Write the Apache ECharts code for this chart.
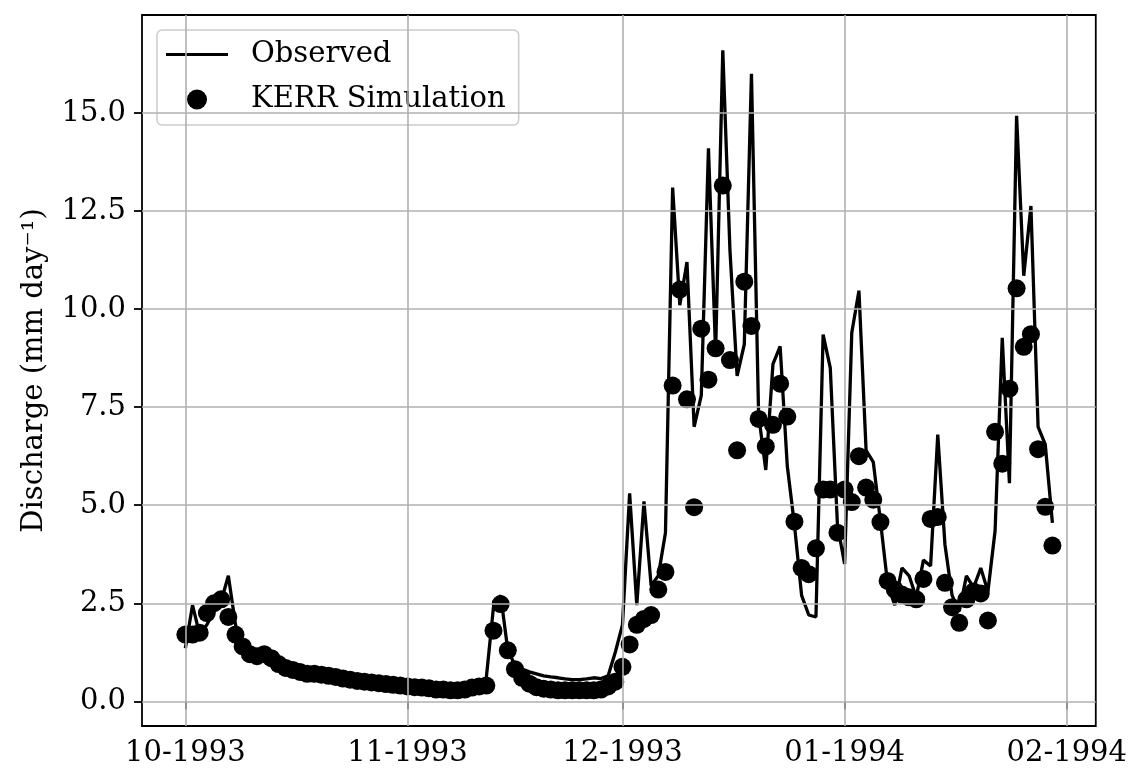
<!DOCTYPE html>
<html>
<head>
<meta charset="utf-8">
<script src="https://cdn.jsdelivr.net/npm/echarts@6/dist/echarts.min.js"></script>
<style>
  html, body { margin: 0; padding: 0; background: #fff; }
  #chart { width: 1130px; height: 770px; }
</style>
</head>
<body>
<div id="chart"></div>
<script>
// daily values, 1993-10-01 .. 1994-01-30
const startDay = '1993-10-01'

const observed = [
  // Oct
  1.35, 2.45, 1.7, 1.95, 2.3, 2.55, 3.2, 1.95, 1.4, 1.2, 1.15, 1.15, 1.05, 0.95, 0.85, 0.8,
  0.75, 0.7, 0.68, 0.66, 0.63, 0.6, 0.57, 0.54, 0.52, 0.5, 0.48, 0.46, 0.44, 0.42, 0.4,
  // Nov
  0.37, 0.35, 0.33, 0.3, 0.28, 0.27, 0.27, 0.27, 0.3, 0.35, 0.45, 0.6, 2.4, 2.7, 1.3,
  0.92, 0.82, 0.75, 0.7, 0.65, 0.62, 0.6, 0.57, 0.55, 0.55, 0.57, 0.6, 0.58, 0.65, 1.25,
  // Dec
  1.95, 5.3, 2.45, 5.1, 2.95, 3.2, 4.3, 13.1, 10.1, 11.2, 7.0, 7.8, 14.1, 8.9, 16.6, 11.5,
  8.3, 9.1, 16.0, 7.3, 5.9, 8.6, 9.05, 6.0, 4.5, 2.7, 2.2, 2.15, 9.35, 8.5, 4.5,
  // Jan
  3.5, 9.4, 10.47, 6.4, 6.1, 4.6, 3.0, 2.45, 3.4, 3.2, 2.65, 3.6, 3.45, 6.8, 4.0,
  2.7, 2.3, 3.2, 2.9, 3.4, 2.8, 4.35, 9.27, 5.56, 14.93, 10.85, 12.63, 7.0, 6.55, 4.55
]

const kerrSim = [
  // Oct
  1.7, 1.7, 1.75, 2.25, 2.5, 2.6, 2.15, 1.7, 1.4, 1.2, 1.15, 1.2, 1.1, 0.95, 0.85, 0.8,
  0.75, 0.7, 0.7, 0.68, 0.65, 0.62, 0.58, 0.55, 0.52, 0.5, 0.48, 0.46, 0.44, 0.42, 0.4,
  // Nov
  0.38, 0.36, 0.35, 0.33, 0.3, 0.3, 0.28, 0.28, 0.3, 0.35, 0.38, 0.4, 1.8, 2.48, 1.3,
  0.82, 0.6, 0.45, 0.36, 0.32, 0.3, 0.28, 0.28, 0.28, 0.28, 0.28, 0.28, 0.3, 0.38, 0.5,
  // Dec
  0.88, 1.45, 1.95, 2.1, 2.2, 2.85, 3.3, 8.05, 10.5, 7.7, 4.95, 9.5, 8.2, 9.0, 13.15, 8.7,
  6.4, 10.7, 9.57, 7.2, 6.5, 7.05, 8.1, 7.26, 4.58, 3.4, 3.24, 3.9, 5.4, 5.4, 4.3,
  // Jan
  5.4, 5.08, 6.25, 5.45, 5.14, 4.57, 3.07, 2.85, 2.72, 2.65, 2.6, 3.12, 4.65, 4.7, 3.02,
  2.4, 2.0, 2.6, 2.8, 2.75, 2.06, 6.87, 6.06, 7.97, 10.53, 9.04, 9.36, 6.43, 4.96, 3.97
]

const xTicks = ['1993-10-01', '1993-11-01', '1993-12-01', '1994-01-01', '1994-02-01']
const yTicks = [0, 2.5, 5, 7.5, 10, 12.5, 15]

const DAY = 86400000
const t0 = Date.parse(startDay + 'T00:00:00Z')
const dates = observed.map((_, i) => t0 + i * DAY)
const xTickTimes = xTicks.map(s => Date.parse(s + 'T00:00:00Z'))

// matplotlib style 5% margins on x
const span = dates[dates.length - 1] - dates[0]
const xMin = dates[0] - span * 0.05
const xMax = dates[dates.length - 1] + span * 0.05

const font = 'DejaVu Serif'
const fs = 29
const pad2 = n => (n < 10 ? '0' : '') + n
const fmtMonth = v => {
  const d = new Date(v)
  return pad2(d.getUTCMonth() + 1) + '-' + d.getUTCFullYear()
}

const chart = echarts.init(document.getElementById('chart'))

const option = {
  animation: false,
  backgroundColor: '#fff',
  textStyle: { fontFamily: font, color: '#000' },
  grid: {
    left: 142, right: 34, top: 15, bottom: 44,
    show: true, borderColor: '#000', borderWidth: 1.8, backgroundColor: 'transparent'
  },
  legend: {
    data: [
      // plain line sample, no marker
      { name: 'Observed', icon: 'path://M0,0 L62,0 L62,3.2 L0,3.2 Z' },
      { name: 'KERR Simulation', icon: 'circle' }
    ],
    orient: 'vertical', left: 157, top: 30,
    padding: [10, 13, 11, 9],
    itemWidth: 62, itemHeight: 20, itemGap: 16,
    backgroundColor: 'rgba(255,255,255,0.8)',
    borderColor: '#cccccc', borderWidth: 1.5, borderRadius: 5,
    textStyle: { fontFamily: font, fontSize: fs, color: '#000', padding: [0, 0, 0, 18] }
  },
  xAxis: {
    // time stored as ms, month ticks placed by value
    type: 'value', min: xMin, max: xMax, scale: true,
    axisLine: { show: false },
    splitLine: { show: false },
    axisTick: { show: true, customValues: xTickTimes, length: 8, lineStyle: { color: '#000', width: 1.8 } },
    axisLabel: {
      customValues: xTickTimes, formatter: fmtMonth, margin: 13,
      fontFamily: font, fontSize: fs, color: '#000', hideOverlap: false
    }
  },
  yAxis: {
    type: 'value', min: -0.63, max: 17.5,
    name: 'Discharge (mm day⁻¹)', nameLocation: 'middle', nameGap: 93,
    nameTextStyle: { fontFamily: font, fontSize: fs, color: '#000' },
    axisLine: { show: false },
    splitLine: { show: false },
    axisTick: { show: true, customValues: yTicks, length: 8, lineStyle: { color: '#000', width: 1.8 } },
    axisLabel: {
      customValues: yTicks, formatter: v => v.toFixed(1), margin: 16,
      fontFamily: font, fontSize: fs, color: '#000'
    }
  },
  series: [
    {
      // grid lines
      type: 'line', data: [], silent: true, z: 1,
      markLine: {
        silent: true, symbol: 'none', animation: false,
        label: { show: false },
        lineStyle: { color: '#b0b0b0', width: 1.6, type: 'solid' },
        data: xTickTimes.map(t => ({ xAxis: t })).concat(yTicks.map(v => ({ yAxis: v })))
      }
    },
    {
      name: 'Observed', type: 'line', z: 3,
      data: dates.map((t, i) => [t, observed[i]]),
      symbol: 'none', showSymbol: false,
      lineStyle: { color: '#000', width: 3.3 },
      itemStyle: { color: '#000' }
    },
    {
      name: 'KERR Simulation', type: 'scatter', z: 4,
      data: dates.map((t, i) => [t, kerrSim[i]]),
      symbol: 'circle', symbolSize: 18,
      itemStyle: { color: '#000', opacity: 1 }
    }
  ]
}

chart.setOption(option)
window.addEventListener('resize', () => chart.resize())
</script>
</body>
</html>
